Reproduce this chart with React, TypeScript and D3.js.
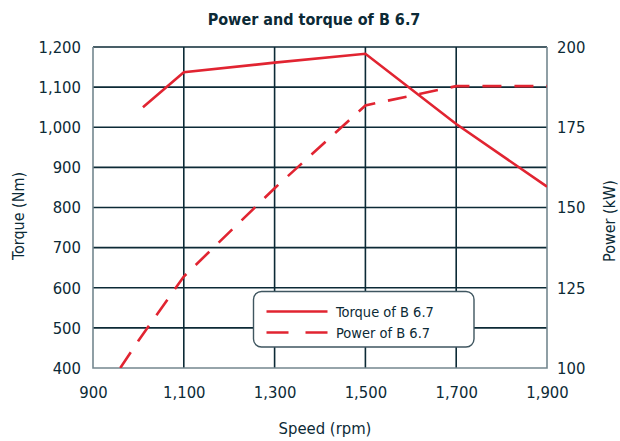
import { useEffect, useRef } from 'react'
import * as d3 from 'd3'

const speedTicks = [900, 1100, 1300, 1500, 1700, 1900]
const torqueTicks = [400, 500, 600, 700, 800, 900, 1000, 1100, 1200]
const powerTicks = [100, 125, 150, 175, 200]

const torqueSpeed = [1010, 1100, 1300, 1500, 1700, 1900]
const torqueValues = [1050, 1137, 1161, 1183, 1008, 852]

const powerSpeed = [960, 1000, 1100, 1300, 1500, 1700, 1900]
const powerValues = [100, 108.5, 128.5, 156, 181.8, 187.8, 187.8]

const NAVY = '#0c2a36'
const RED = '#e12431'
const FONT = '"DejaVu Sans Condensed", "DejaVu Sans", sans-serif'

export default function App() {
  const svgRef = useRef<SVGSVGElement | null>(null)

  useEffect(() => {
    if (!svgRef.current) return
    const width = 620
    const height = 441
    const margin = { top: 47, right: 73, bottom: 73, left: 93 }

    const svg = d3.select(svgRef.current)
    svg.selectAll('*').remove()
    svg.attr('viewBox', `0 0 ${width} ${height}`)

    const x = d3.scaleLinear().domain([900, 1900]).range([margin.left, width - margin.right])
    const y = d3.scaleLinear().domain([400, 1200]).range([height - margin.bottom, margin.top])
    const yR = d3.scaleLinear().domain([100, 200]).range([height - margin.bottom, margin.top])

    // grid
    svg
      .append('g')
      .selectAll('line')
      .data(torqueTicks.slice(1))
      .join('line')
      .attr('x1', margin.left)
      .attr('x2', width - margin.right)
      .attr('y1', (d) => y(d))
      .attr('y2', (d) => y(d))
      .attr('stroke', NAVY)
      .attr('stroke-width', 1.6)

    svg
      .append('g')
      .selectAll('line')
      .data(speedTicks.slice(1, -1))
      .join('line')
      .attr('x1', (d) => x(d))
      .attr('x2', (d) => x(d))
      .attr('y1', margin.top)
      .attr('y2', height - margin.bottom)
      .attr('stroke', NAVY)
      .attr('stroke-width', 1.6)

    // frame (left, bottom, right)
    svg
      .append('path')
      .attr('d', `M${x(900)},${y(1200)}V${y(400)}H${x(1900)}V${y(1200)}`)
      .attr('fill', 'none')
      .attr('stroke', '#74878f')
      .attr('stroke-width', 1.6)

    // ticks
    const left = svg
      .append('g')
      .attr('transform', `translate(${margin.left},0)`)
      .call(d3.axisLeft(y).tickValues(torqueTicks).tickSize(0).tickPadding(12).tickFormat(d3.format(',')))
    left.select('.domain').remove()

    const right = svg
      .append('g')
      .attr('transform', `translate(${width - margin.right},0)`)
      .call(d3.axisRight(yR).tickValues(powerTicks).tickSize(0).tickPadding(10))
    right.select('.domain').remove()

    const bottom = svg
      .append('g')
      .attr('transform', `translate(0,${height - margin.bottom})`)
      .call(d3.axisBottom(x).tickValues(speedTicks).tickSize(0).tickPadding(18).tickFormat(d3.format(',')))
    bottom.select('.domain').remove()

    svg
      .selectAll('.tick text')
      .attr('fill', NAVY)
      .attr('font-size', 16.5)
      .attr('font-family', FONT)

    const clipId = 'plot-clip'
    svg
      .append('clipPath')
      .attr('id', clipId)
      .append('rect')
      .attr('x', margin.left)
      .attr('y', margin.top)
      .attr('width', width - margin.left - margin.right)
      .attr('height', height - margin.top - margin.bottom)

    const torqueLine = d3
      .line<number>()
      .x((_, i) => x(torqueSpeed[i]))
      .y((d) => y(d))
    const powerLine = d3
      .line<number>()
      .x((_, i) => x(powerSpeed[i]))
      .y((d) => yR(d))

    svg
      .append('path')
      .attr('clip-path', `url(#${clipId})`)
      .attr('d', torqueLine(torqueValues))
      .attr('fill', 'none')
      .attr('stroke', RED)
      .attr('stroke-width', 2.6)

    svg
      .append('path')
      .attr('clip-path', `url(#${clipId})`)
      .attr('d', powerLine(powerValues))
      .attr('fill', 'none')
      .attr('stroke', RED)
      .attr('stroke-width', 2.6)
      .attr('stroke-dasharray', '19,13')

    // legend
    const lg = svg.append('g').attr('transform', 'translate(253.5,291.5)')
    lg.append('rect')
      .attr('width', 220.5)
      .attr('height', 55.5)
      .attr('rx', 8)
      .attr('fill', '#fff')
      .attr('stroke', '#3f5660')
      .attr('stroke-width', 1.4)
    const items = [
      { label: 'Torque of B 6.7', dash: null },
      { label: 'Power of B 6.7', dash: '22,17' },
    ]
    items.forEach((item, i) => {
      const cy = 20 + i * 21
      lg.append('line')
        .attr('x1', 13)
        .attr('x2', 74)
        .attr('y1', cy)
        .attr('y2', cy)
        .attr('stroke', RED)
        .attr('stroke-width', 2.6)
        .attr('stroke-dasharray', item.dash)
      lg.append('text')
        .attr('x', 82.5)
        .attr('y', cy + 5)
        .attr('fill', NAVY)
        .attr('font-size', 14.5)
        .attr('font-family', FONT)
        .text(item.label)
    })

    // titles
    svg
      .append('text')
      .attr('x', 314)
      .attr('y', 25)
      .attr('text-anchor', 'middle')
      .attr('fill', NAVY)
      .attr('font-size', 16)
      .attr('font-weight', 'bold')
      .attr('font-family', FONT)
      .text('Power and torque of B 6.7')

    svg
      .append('text')
      .attr('x', 325)
      .attr('y', 434)
      .attr('text-anchor', 'middle')
      .attr('fill', NAVY)
      .attr('font-size', 16.5)
      .attr('font-family', FONT)
      .text('Speed (rpm)')

    svg
      .append('text')
      .attr('transform', 'translate(24,216) rotate(-90)')
      .attr('text-anchor', 'middle')
      .attr('fill', NAVY)
      .attr('font-size', 16)
      .attr('font-family', FONT)
      .text('Torque (Nm)')

    svg
      .append('text')
      .attr('transform', 'translate(615,221) rotate(-90)')
      .attr('text-anchor', 'middle')
      .attr('fill', NAVY)
      .attr('font-size', 16)
      .attr('font-family', FONT)
      .text('Power (kW)')
  }, [])

  return (
    <div style={{ position: 'absolute', left: 0, top: 0, width: 620, height: 441, background: '#fff' }}>
      <svg ref={svgRef} width={620} height={441} style={{ display: 'block' }} />
    </div>
  )
}
